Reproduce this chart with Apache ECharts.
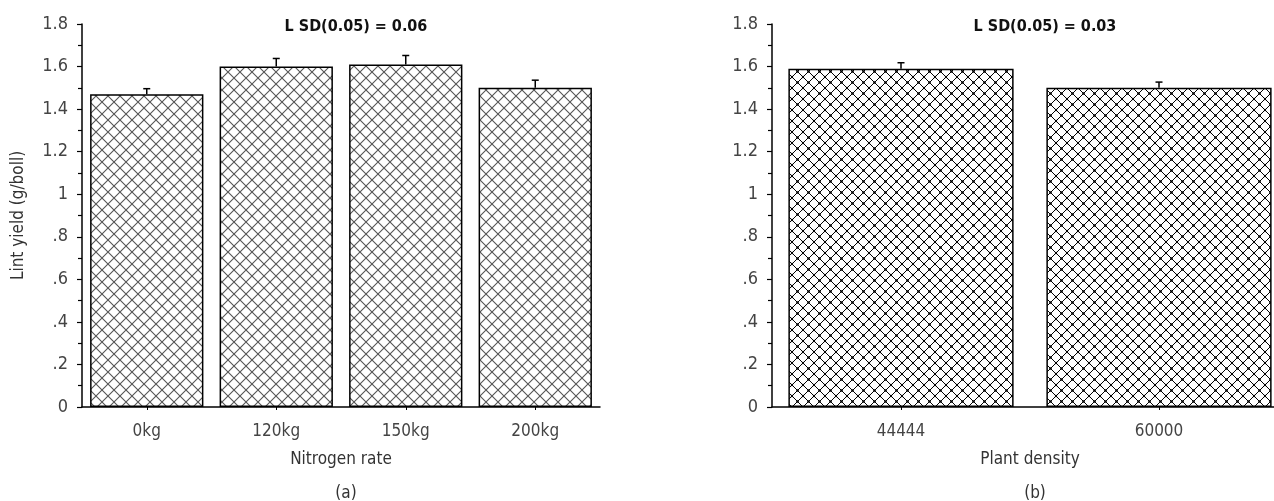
<!DOCTYPE html>
<html>
<head>
<meta charset="utf-8">
<script src="https://cdn.jsdelivr.net/npm/echarts@6/dist/echarts.min.js"></script>
<style>
html,body{margin:0;padding:0;background:#fff;}
#chart{width:1274px;height:501px;}
</style>
</head>
<body>
<div id="chart"></div>
<script>
// ---- data ----
const nitrogenCategories = ['0kg', '120kg', '150kg', '200kg'];
const nitrogenValues = [1.47, 1.60, 1.61, 1.50];
const nitrogenErrors = [0.026, 0.038, 0.042, 0.036];
const densityCategories = ['44444', '60000'];
const densityValues = [1.59, 1.50];
const densityErrors = [0.028, 0.027];
const yTicks = ['0', '.2', '.4', '.6', '.8', '1', '1.2', '1.4', '1.6', '1.8'];
const lsdLeft = 'L SD(0.05) = 0.06';
const lsdRight = 'L SD(0.05) = 0.03';

const FONT = '"DejaVu Sans Condensed", "Liberation Sans Narrow", "Arial Narrow", "Liberation Sans", Arial, sans-serif';

function makeHatch(size, color, lw, dots) {
  const c = document.createElement('canvas');
  c.width = size; c.height = size;
  const g = c.getContext('2d');
  g.fillStyle = '#fff';
  g.fillRect(0, 0, size, size);
  g.strokeStyle = color;
  g.lineWidth = lw;
  g.beginPath();
  g.moveTo(-1, -1); g.lineTo(size + 1, size + 1);
  g.moveTo(size + 1, -1); g.lineTo(-1, size + 1);
  g.stroke();
  if (dots) {
    g.fillStyle = color;
    const r = 1.2;
    [[size / 2, size / 2], [0, 0], [size, 0], [0, size], [size, size]].forEach(p => {
      g.beginPath(); g.arc(p[0], p[1], r, 0, Math.PI * 2); g.fill();
    });
  }
  return c;
}
const hatchA = makeHatch(12, '#555', 1.1, false);
const hatchB = makeHatch(11, '#000', 1, true);

function yFmt(v) {
  const idx = Math.round(v / 0.2);
  return yTicks[idx] !== undefined ? yTicks[idx] : '';
}

function yAxisCfg(gridIndex, name) {
  return {
    type: 'value', gridIndex, min: 0, max: 1.8, interval: 0.2,
    name: name, nameLocation: 'middle', nameGap: 55,
    nameTextStyle: { fontFamily: FONT, fontSize: 17, color: '#333' },
    axisLine: { show: true, lineStyle: { color: '#000', width: 1.5 } },
    axisTick: { show: true, length: 5, lineStyle: { color: '#000', width: 1.2 } },
    minorTick: { show: true, splitNumber: 2, length: 4, lineStyle: { color: '#000', width: 1.2 } },
    splitLine: { show: false },
    axisLabel: { formatter: yFmt, fontFamily: FONT, fontSize: 18, color: '#444', margin: 14 }
  };
}
function xAxisCfg(gridIndex, cats, name) {
  return {
    type: 'category', gridIndex, data: cats,
    name: name, nameLocation: 'middle', nameGap: 44,
    nameTextStyle: { fontFamily: FONT, fontSize: 17, color: '#333' },
    axisLine: { show: true, lineStyle: { color: '#000', width: 1.5 } },
    axisTick: { show: true, alignWithLabel: true, length: 3, lineStyle: { color: '#000', width: 1 } },
    axisLabel: { fontFamily: FONT, fontSize: 17, color: '#444', margin: 16 }
  };
}
function errSeries(xi, yi, vals, errs) {
  return {
    type: 'custom', xAxisIndex: xi, yAxisIndex: yi, z: 5,
    data: vals.map((v, i) => [i, v, errs[i]]),
    encode: { x: 0, y: 1 },
    renderItem: function (params, api) {
      const i = api.value(0), v = api.value(1), e = api.value(2);
      const p0 = api.coord([i, v]);
      const p1 = api.coord([i, v + e]);
      const hw = 3.5;
      return {
        type: 'group',
        children: [
          { type: 'line', shape: { x1: p0[0], y1: p0[1], x2: p1[0], y2: p1[1] }, style: { stroke: '#000', lineWidth: 1.5 } },
          { type: 'line', shape: { x1: p1[0] - hw, y1: p1[1], x2: p1[0] + hw, y2: p1[1] }, style: { stroke: '#000', lineWidth: 1.5 } }
        ]
      };
    }
  };
}

const chart = echarts.init(document.getElementById('chart'), null, { renderer: 'canvas' });
chart.setOption({
  animation: false,
  backgroundColor: '#fff',
  title: [
    { text: lsdLeft, left: 351, top: 14, textAlign: 'center', textStyle: { fontFamily: FONT, fontSize: 16, fontWeight: 'bold', color: '#111' } },
    { text: lsdRight, left: 1040, top: 14, textAlign: 'center', textStyle: { fontFamily: FONT, fontSize: 16, fontWeight: 'bold', color: '#111' } },
    { text: '(a)', left: 341, top: 480, textAlign: 'center', textStyle: { fontFamily: FONT, fontSize: 17, fontWeight: 'normal', color: '#333' } },
    { text: '(b)', left: 1030, top: 480, textAlign: 'center', textStyle: { fontFamily: FONT, fontSize: 17, fontWeight: 'normal', color: '#333' } }
  ],
  grid: [
    { left: 82, top: 24, width: 518, height: 383, outerBoundsMode: 'none', containLabel: false },
    { left: 772, top: 24, width: 516, height: 383, outerBoundsMode: 'none', containLabel: false }
  ],
  xAxis: [xAxisCfg(0, nitrogenCategories, 'Nitrogen rate'), xAxisCfg(1, densityCategories, 'Plant density')],
  yAxis: [yAxisCfg(0, 'Lint yield (g/boll)'), yAxisCfg(1, '')],
  series: [
    {
      type: 'bar', xAxisIndex: 0, yAxisIndex: 0, data: nitrogenValues, barWidth: '87.5%',
      itemStyle: { color: { image: hatchA, repeat: 'repeat' }, borderColor: '#000', borderWidth: 1.5 }
    },
    {
      type: 'bar', xAxisIndex: 1, yAxisIndex: 1, data: densityValues, barWidth: '87.3%',
      itemStyle: { color: { image: hatchB, repeat: 'repeat' }, borderColor: '#000', borderWidth: 1.5 }
    },
    errSeries(0, 0, nitrogenValues, nitrogenErrors),
    errSeries(1, 1, densityValues, densityErrors)
  ]
});
</script>
</body>
</html>
